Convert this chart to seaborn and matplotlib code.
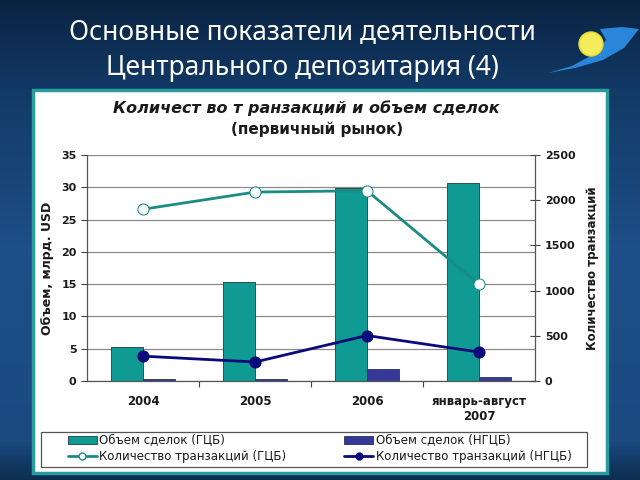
import numpy as np
import pandas as pd
import seaborn as sns
import matplotlib.pyplot as plt
from matplotlib.patches import Rectangle, Polygon, Circle
from matplotlib.lines import Line2D

# values
periods = ['2004', '2005', '2006', 'январь-август\n2007']
volume_gcb = [5.3, 15.3, 29.9, 30.7]      # млрд. USD
volume_ngcb = [0.25, 0.25, 1.9, 0.6]
deals_gcb = [1900, 2090, 2105, 1070]      # количество транзакций
deals_ngcb = [275, 210, 503, 320]

label_vol_gcb = 'Объем сделок (ГЦБ)'
label_vol_ngcb = 'Объем сделок (НГЦБ)'
label_deals_gcb = 'Количество транзакций (ГЦБ)'
label_deals_ngcb = 'Количество транзакций (НГЦБ)'

teal = '#0f9a94'
navy_bar = '#38389a'
teal_line = '#1a8c84'
navy_line = '#0a0a7a'
ink = '#1a1a1a'

sns.set_theme(style='white')
plt.rcParams['font.family'] = ['DejaVu Sans']

fig = plt.figure(figsize=(6.4, 4.8), dpi=100)

# slide background, drawn in pixel coordinates
bg = fig.add_axes([0, 0, 1, 1])
stops_y = [0, 90, 250, 440, 480]
stops_c = np.array([[10, 35, 66], [18, 58, 102], [30, 79, 136], [26, 74, 128], [13, 45, 78]]) / 255
rows = np.arange(480)
grad = np.stack([np.interp(rows, stops_y, stops_c[:, k]) for k in range(3)], axis=1)
img = np.repeat(grad[:, None, :], 640, axis=1)
bg.imshow(img, extent=[0, 640, 480, 0], aspect='auto')
bg.set_xlim(0, 640)
bg.set_ylim(480, 0)
bg.axis('off')

bg.add_patch(Rectangle((33, 90), 574, 383, facecolor='white', edgecolor='#2a9a9a', linewidth=2.5))
# legend frame
bg.add_patch(Rectangle((41, 432), 546, 35, facecolor='white', edgecolor='#555555', linewidth=0.9))

# logo
bg.add_patch(Polygon([(548, 73), (575, 68), (603, 60), (624, 48), (639, 29),
                      (622, 27), (600, 29), (606, 40), (596, 53), (572, 66)],
                     closed=True, facecolor='#2a86d8', edgecolor='none'))
bg.add_patch(Circle((591, 44), 12, facecolor='#f4ec5a', edgecolor='#e8d830', linewidth=1))

bg.text(302, 33, 'Основные показатели деятельности', color='white', fontsize=19,
        ha='center', va='center', family='Noto Sans')
bg.text(302, 68, 'Центрального депозитария (4)', color='white', fontsize=19,
        ha='center', va='center', family='Noto Sans')

bg.text(306, 108, 'Количест во т ранзакций и объем сделок', fontsize=11.5,
        fontweight='bold', fontstyle='italic', ha='center', va='center', color=ink)
bg.text(317, 129, '(первичный рынок)', fontsize=11, fontweight='bold',
        ha='center', va='center', color=ink)

# chart
ax = fig.add_axes([87 / 640, 1 - 381 / 480, 448 / 640, 226 / 480])
ax.set_facecolor('white')

bars = pd.DataFrame({
    'period': periods * 2,
    'value': volume_gcb + volume_ngcb,
    'kind': [label_vol_gcb] * 4 + [label_vol_ngcb] * 4,
})
sns.barplot(data=bars, x='period', y='value', hue='kind', palette=[teal, navy_bar],
            width=0.58, saturation=1, edgecolor='#1c3c3c', linewidth=0.6,
            legend=False, ax=ax)
ax.set_ylim(0, 35)
ax.set_xlim(-0.5, 3.5)
ax.set_yticks(range(0, 36, 5))
ax.yaxis.grid(True, color='#8a8a8a', linewidth=0.9)
ax.set_axisbelow(True)
ax.set_xlabel('')
ax.set_ylabel('Объем, млрд. USD', fontsize=9, fontweight='bold', labelpad=5, color=ink)
ax.set_xticks(range(4))
ax.set_xticklabels(periods, fontsize=8.5, fontweight='bold', color=ink)
ax.set_xticks([0.5, 1.5, 2.5], minor=True)
ax.tick_params(axis='x', which='major', length=0, pad=10)
ax.tick_params(axis='x', which='minor', length=4, width=0.8, color='#444444', bottom=True)
ax.tick_params(axis='y', length=4, width=0.8, color='#444444', left=True, labelsize=8,
               labelcolor=ink)
for lab in ax.get_yticklabels():
    lab.set_fontweight('bold')
for side in ['top', 'right']:
    ax.spines[side].set_visible(False)
for side in ['left', 'bottom']:
    ax.spines[side].set_color('#555555')
    ax.spines[side].set_linewidth(0.9)

ax2 = ax.twinx()
xpos = list(range(4))
sns.lineplot(x=xpos, y=deals_gcb, ax=ax2, color=teal_line, linewidth=2, marker='o',
             markersize=8, markerfacecolor='white', markeredgecolor=teal_line, sort=False)
sns.lineplot(x=xpos, y=deals_ngcb, ax=ax2, color=navy_line, linewidth=2, marker='o',
             markersize=8, markerfacecolor=navy_line, markeredgecolor=navy_line, sort=False)
ax2.set_ylim(0, 2500)
ax2.set_xlim(-0.5, 3.5)
ax2.set_yticks(range(0, 2501, 500))
ax2.tick_params(axis='y', direction='inout', length=7, width=0.8, color='#444444',
                right=True, labelsize=8, labelcolor=ink)
for lab in ax2.get_yticklabels():
    lab.set_fontweight('bold')
ax2.set_ylabel('Количество транзакций', fontsize=8.5, fontweight='bold', labelpad=8,
               color=ink)
ax2.grid(False)
for side in ['top', 'left', 'bottom']:
    ax2.spines[side].set_visible(False)
ax2.spines['right'].set_color('#555555')
ax2.spines['right'].set_linewidth(0.9)

handles = [
    Rectangle((0, 0), 1, 1, facecolor=teal, edgecolor='#1c3c3c', linewidth=0.6),
    Line2D([], [], color=teal_line, linewidth=2, marker='o', markersize=5,
           markerfacecolor='white', markeredgecolor=teal_line),
    Rectangle((0, 0), 1, 1, facecolor=navy_bar, edgecolor='#1c3c3c', linewidth=0.6),
    Line2D([], [], color=navy_line, linewidth=2, marker='o', markersize=5,
           markerfacecolor=navy_line, markeredgecolor=navy_line),
]
labels = [label_vol_gcb, label_deals_gcb, label_vol_ngcb, label_deals_ngcb]
leg = fig.legend(handles, labels, ncol=2, loc='upper left',
                 bbox_to_anchor=(68 / 640, 1 - 434 / 480),
                 frameon=False, fontsize=8.5, handlelength=2.45, handleheight=0.6,
                 handletextpad=0.2, labelspacing=0.22, borderpad=0,
                 columnspacing=4.9, borderaxespad=0)
for t in leg.get_texts():
    t.set_color(ink)

fig.savefig('out.png', dpi=100)
